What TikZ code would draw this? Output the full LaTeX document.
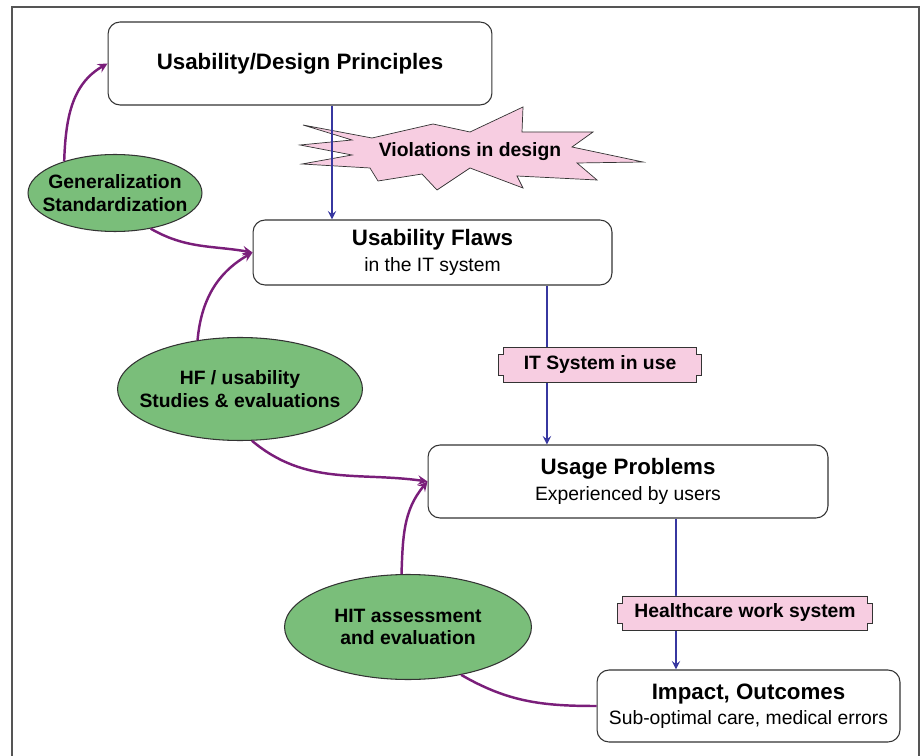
\documentclass[tikz,border=0pt]{standalone}
\usepackage{fontspec}
\setmainfont{Liberation Sans}
\usetikzlibrary{shapes.geometric,arrows}

\definecolor{flowblue}{RGB}{55,55,160}
\definecolor{linkpurple}{RGB}{122,30,122}
\definecolor{tagpink}{RGB}{247,205,225}
\definecolor{ovalgreen}{RGB}{122,190,122}
\definecolor{framegray}{RGB}{85,85,85}

\begin{document}
\begin{tikzpicture}
            [x=0.02cm, y=-0.02cm, >=stealth, semithick,
             stage/.style={draw=black!80, fill=white, rounded corners=0.24cm, align=center, font=\fontsize{11}{14.5}\selectfont},
             oval/.style={shape=ellipse, draw=black!80, fill=ovalgreen, inner sep=0pt},
             ovaltext/.style={align=center, inner sep=0pt, font=\fontsize{11}{13}\selectfont\bfseries},
             tagbox/.style={inner sep=0pt, font=\fontsize{11}{13}\selectfont\bfseries},
             flow/.style={->, draw=flowblue, line width=1.1pt},
             link/.style={draw=linkpurple, line width=1.4pt}]
            \useasboundingbox (0,0) rectangle (922,756);
            \draw[framegray, line width=1.2pt] (12,760) -- (12,7) -- (919,7) -- (919,760);

            % boxes
            \node[stage, minimum width=7.68cm, minimum height=1.66cm] (p1) at (300,63.5) {\textbf{\fontsize{12.7}{15}\selectfont Usability/Design Principles}};
            \node[stage, minimum width=7.18cm, minimum height=1.30cm] (p2) at (432.5,252.5) {\textbf{\fontsize{12.7}{15}\selectfont Usability Flaws}\\in the IT system};
            \node[stage, minimum width=8.00cm, minimum height=1.46cm] (p3) at (628,481.5) {\textbf{\fontsize{12.7}{15}\selectfont Usage Problems}\\Experienced by users};
            \node[stage, minimum width=6.06cm, minimum height=1.44cm] (p4) at (748.5,706) {\textbf{\fontsize{12.7}{15}\selectfont Impact, Outcomes}\\Sub-optimal care, medical errors};

            % starburst
            \filldraw[fill=tagpink, draw=black!80, thin] (303,125) -- (372,138) -- (433,124) -- (470,132) -- (523,107) -- (522,132) -- (593,132) -- (572,147) -- (643,162) -- (577,163) -- (597,180) -- (517,176) -- (523,188) -- (470,168) -- (437,190) -- (422,174) -- (378,181) -- (370,168) -- (302,164) -- (352,155) -- (300,145) -- (352,140) -- cycle;

            % tag places
            \node[tagbox, minimum width=4.04cm, minimum height=0.68cm] (t1) at (600,365) {};
            \node[tagbox, minimum width=5.08cm, minimum height=0.66cm] (t2) at (745,613) {};

            % blue flow
            \draw[flow] ([xshift=0.64cm]p1.south) -- ([xshift=0.64cm]p1.south |- p2.north);
            \draw[flow] ([xshift=2.29cm]p2.south) -- ([xshift=2.29cm]p2.south |- p3.north);
            \draw[flow] ([xshift=0.96cm]p3.south) -- ([xshift=0.96cm]p3.south |- p4.north);

            \node[tagbox] (v1) at (470,152) {Violations in design};

            % tags
            \foreach \t in {t1,t2}
              \filldraw[fill=tagpink, draw=black!80, thin] ([xshift=2.8pt]\t.north west) -- ([xshift=-2.8pt]\t.north east) -- ([xshift=-2.8pt,yshift=-4pt]\t.north east) -- ([yshift=-4pt]\t.north east) -- ([yshift=4pt]\t.south east) -- ([xshift=-2.8pt,yshift=4pt]\t.south east) -- ([xshift=-2.8pt]\t.south east) -- ([xshift=2.8pt]\t.south west) -- ([xshift=2.8pt,yshift=4pt]\t.south west) -- ([yshift=4pt]\t.south west) -- ([yshift=-4pt]\t.north west) -- ([xshift=2.8pt,yshift=-4pt]\t.north west) -- cycle;
            \node[tagbox] (t1text) at (t1) {IT System in use};
            \node[tagbox] (t2text) at (t2) {Healthcare work system};

            % ovals
            \node[oval, minimum width=3.48cm, minimum height=1.54cm] (g1) at (115,193) {};
            \node[ovaltext] (g1text) at (g1) {Generalization\\Standardization};
            \node[oval, minimum width=4.90cm, minimum height=2.06cm] (g2) at (240,389) {};
            \node[ovaltext] (g2text) at (g2) {HF / usability\\Studies \& evaluations};
            \node[oval, minimum width=4.94cm, minimum height=2.10cm] (g3) at (408,627) {};
            \node[ovaltext] (g3text) at (g3) {HIT assessment\\and evaluation};

            % purple links
            \draw[link, ->] (g1.148) to[out=88, in=210] (p1.west);
            \draw[link, ->] (g1.-45) to[out=-30, in=170] (p2.west);
            \draw[link, ->] (g2.131) to[out=85, in=210] (p2.west);
            \draw[link, ->] (g2.-77) to[out=-40, in=172] (p3.west);
            \draw[link, ->] (g3.97) to[out=88, in=230] (p3.west);
            \draw[link] (g3.-42) to[out=-30, in=180] (p4.west);
        \end{tikzpicture}
\end{document}
